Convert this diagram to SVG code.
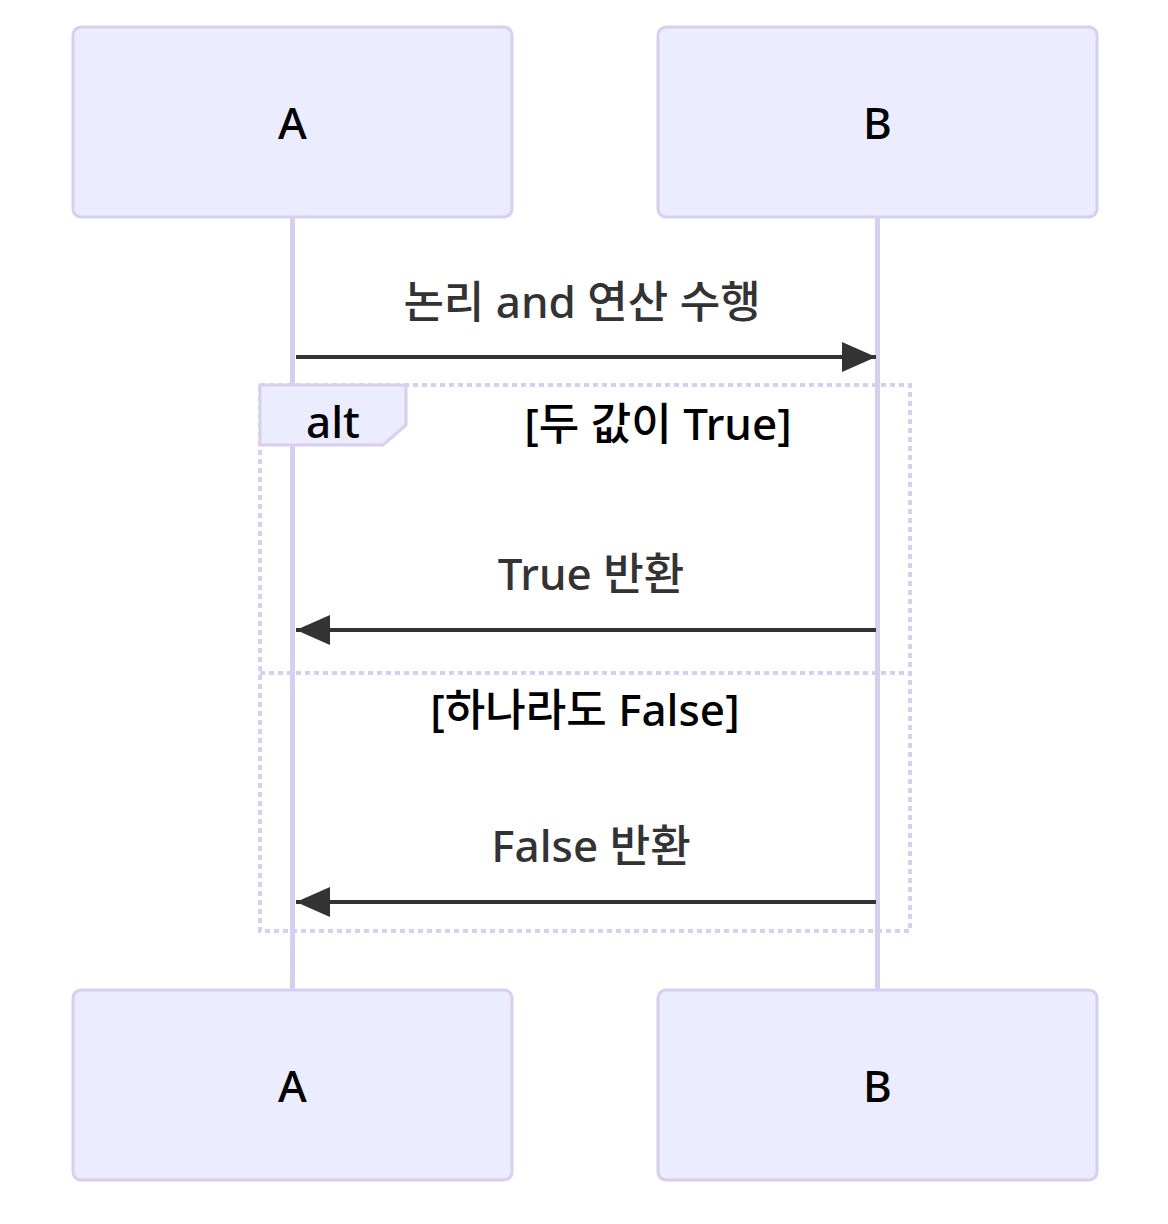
<svg xmlns="http://www.w3.org/2000/svg" width="1168" height="1224" viewBox="0 0 1168 1224">
<defs>
<style>
.actor{fill:#ECECFF;stroke:#D6CFF0;stroke-width:3}
.life{stroke:#D6CFF0;stroke-width:5}
.atext{font-family:"Noto Sans","Noto Sans CJK KR",sans-serif;font-size:44px;font-weight:500;fill:#000;text-anchor:middle;dominant-baseline:central}
.msg{stroke:#333;stroke-width:4;fill:none}
.mtext{font-family:"Noto Sans","Noto Sans CJK KR",sans-serif;font-size:44px;font-weight:500;fill:#333;text-anchor:middle}
.frame{fill:none;stroke:#D6CFF0;stroke-width:4;stroke-dasharray:5 4}
.ltext{font-family:"Noto Sans","Noto Sans CJK KR",sans-serif;font-size:44px;font-weight:500;fill:#000;text-anchor:middle}
</style>
<marker id="ah" markerUnits="userSpaceOnUse" markerWidth="36" markerHeight="32" refX="34" refY="15" orient="auto">
<path d="M0,0 L34,15 L0,30 Z" fill="#333"/>
</marker>
</defs>
<rect width="1168" height="1224" fill="#fff"/>
<g id="lifelines">
<line class="life" x1="292.5" y1="217" x2="292.5" y2="990"/>
<line class="life" x1="877.5" y1="217" x2="877.5" y2="990"/>
</g>
<g id="actor-A-top"><rect class="actor" x="73" y="27" width="439" height="190" rx="8"/><text class="atext" x="292.5" y="122">A</text></g>
<g id="actor-B-top"><rect class="actor" x="658" y="27" width="439" height="190" rx="8"/><text class="atext" x="877.5" y="122">B</text></g>
<g id="alt-frame">
<rect class="frame" x="260" y="385" width="650" height="546"/>
<path d="M260,385 L406,385 L406,425 L383,445 L260,445 Z" fill="#ECECFF" stroke="#D6CFF0" stroke-width="3"/>
<text class="ltext" x="333" y="438">alt</text>
<text class="ltext" x="658" y="440">[두 값이 True]</text>
<line class="frame" x1="260" y1="673" x2="910" y2="673"/>
<text class="ltext" x="585" y="726">[하나라도 False]</text>
</g>
<g id="connectors">
<line class="msg" x1="296" y1="357" x2="876" y2="357" marker-end="url(#ah)"/>
<line class="msg" x1="876" y1="630" x2="296" y2="630" marker-end="url(#ah)"/>
<line class="msg" x1="876" y1="902" x2="296" y2="902" marker-end="url(#ah)"/>
</g>
<g id="labels">
<text class="mtext" x="582" y="318">논리 and 연산 수행</text>
<text class="mtext" x="591" y="590">True 반환</text>
<text class="mtext" x="591" y="862">False 반환</text>
</g>
<g id="actor-A-bottom"><rect class="actor" x="73" y="990" width="439" height="190" rx="8"/><text class="atext" x="292.5" y="1085">A</text></g>
<g id="actor-B-bottom"><rect class="actor" x="658" y="990" width="439" height="190" rx="8"/><text class="atext" x="877.5" y="1085">B</text></g>
</svg>
